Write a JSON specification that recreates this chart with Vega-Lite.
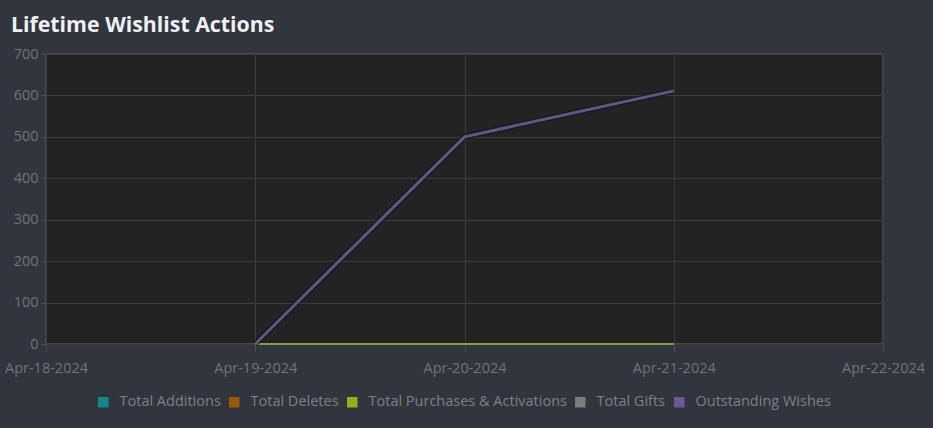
{
  "$schema": "https://vega.github.io/schema/vega-lite/v6.json",
  "autosize": {"type": "none"},
  "width": 837,
  "height": 290,
  "padding": {"left": 46, "top": 54, "right": 50, "bottom": 84},
  "background": "#31353d",
  "title": {
    "text": "Lifetime Wishlist Actions",
    "anchor": "start",
    "frame": "group",
    "dx": -35,
    "offset": 10,
    "font": "Open Sans",
    "fontSize": 21.3,
    "fontWeight": "bold",
    "color": "#eef0f2"
  },
  "config": {
    "view": {"fill": "#232323", "stroke": "#484848", "strokeWidth": 2},
    "axis": {
      "labelFont": "Open Sans",
      "labelFontSize": 14.5,
      "labelColor": "#6f737a",
      "gridColor": "#3c3c3c",
      "gridWidth": 1,
      "domain": false,
      "tickColor": "#4a4d52",
      "tickSize": 5,
      "title": null
    },
    "legend": {
      "labelFont": "Open Sans",
      "labelFontSize": 14.5,
      "labelColor": "#7b8089",
      "labelLimit": 400,
      "symbolType": "square",
      "symbolSize": 30,
      "symbolStrokeWidth": 5,
      "symbolOpacity": 1,
      "columnPadding": 0,
      "labelOffset": 9
    }
  },
  "data": {
    "values": [
      {"date": "2024-04-19", "series": "Total Additions", "value": 0},
      {"date": "2024-04-20", "series": "Total Additions", "value": 500},
      {"date": "2024-04-21", "series": "Total Additions", "value": 611},
      {"date": "2024-04-19", "series": "Total Deletes", "value": 0},
      {"date": "2024-04-20", "series": "Total Deletes", "value": 0},
      {"date": "2024-04-21", "series": "Total Deletes", "value": 0},
      {"date": "2024-04-19", "series": "Total Gifts", "value": 0},
      {"date": "2024-04-20", "series": "Total Gifts", "value": 0},
      {"date": "2024-04-21", "series": "Total Gifts", "value": 0},
      {"date": "2024-04-19", "series": "Total Purchases & Activations", "value": 0},
      {"date": "2024-04-20", "series": "Total Purchases & Activations", "value": 0},
      {"date": "2024-04-21", "series": "Total Purchases & Activations", "value": 0},
      {"date": "2024-04-19", "series": "Outstanding Wishes", "value": 0},
      {"date": "2024-04-20", "series": "Outstanding Wishes", "value": 500},
      {"date": "2024-04-21", "series": "Outstanding Wishes", "value": 611}
    ]
  },
  "encoding": {
    "x": {
      "field": "date",
      "type": "temporal",
      "scale": {
        "type": "utc",
        "domain": [
          {"year": 2024, "month": 4, "date": 18, "utc": true},
          {"year": 2024, "month": 4, "date": 22, "utc": true}
        ]
      },
      "axis": {
        "values": [
          {"year": 2024, "month": 4, "date": 18, "utc": true},
          {"year": 2024, "month": 4, "date": 19, "utc": true},
          {"year": 2024, "month": 4, "date": 20, "utc": true},
          {"year": 2024, "month": 4, "date": 21, "utc": true},
          {"year": 2024, "month": 4, "date": 22, "utc": true}
        ],
        "format": "%b-%d-%Y",
        "labelPadding": 9,
        "labelFlush": false,
        "labelOverlap": false,
        "tickSize": 8
      }
    },
    "y": {
      "field": "value",
      "type": "quantitative",
      "scale": {"domain": [0, 700], "nice": false},
      "axis": {"values": [0, 100, 200, 300, 400, 500, 600, 700], "labelPadding": 3}
    },
    "color": {
      "field": "series",
      "type": "nominal",
      "scale": {
        "domain": ["Total Additions", "Total Deletes", "Total Purchases & Activations", "Total Gifts", "Outstanding Wishes"],
        "range": ["#12888a", "#9a5a0c", "#8fb315", "#7d7d7d", "#6b5a9a"]
      },
      "legend": {
        "orient": "none",
        "direction": "horizontal",
        "legendX": 50,
        "legendY": 341,
        "title": null
      }
    }
  },
  "layer": [
    {
      "transform": [{"filter": "datum.series == 'Total Additions' || datum.series == 'Total Deletes' || datum.series == 'Total Gifts'"}],
      "mark": {"type": "line", "strokeWidth": 2}
    },
    {
      "transform": [{"filter": "datum.series == 'Total Purchases & Activations'"}],
      "mark": {"type": "line", "strokeWidth": 2, "opacity": 0.6}
    },
    {
      "transform": [{"filter": "datum.series == 'Outstanding Wishes'"}],
      "mark": {"type": "line", "strokeWidth": 5.5, "stroke": "#141414", "opacity": 0.7}
    },
    {
      "transform": [{"filter": "datum.series == 'Outstanding Wishes'"}],
      "mark": {"type": "line", "strokeWidth": 3, "stroke": "#5c598a"}
    }
  ]
}
